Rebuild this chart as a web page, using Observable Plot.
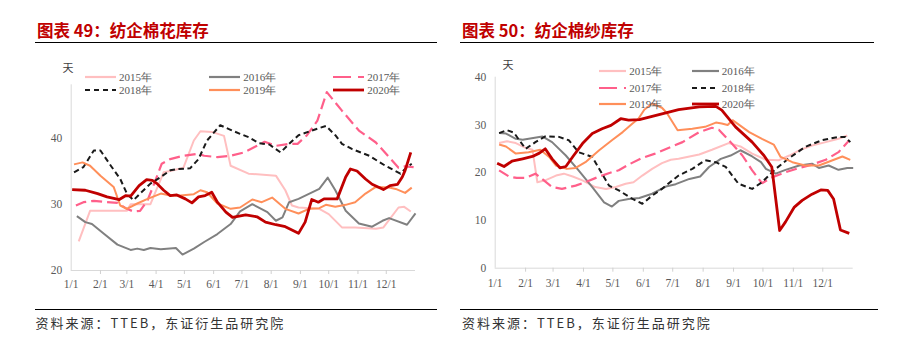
<!DOCTYPE html>
<html><head><meta charset="utf-8">
<script src="https://cdn.jsdelivr.net/npm/d3@7"></script>
<script src="https://cdn.jsdelivr.net/npm/@observablehq/plot@0.6"></script>
<style>
html,body{margin:0;padding:0;background:#fff;}
body{width:901px;height:356px;position:relative;overflow:hidden;font-family:"Liberation Serif",serif;}
.title{position:absolute;top:22px;font:700 16.5px/1 "Noto Sans CJK SC",sans-serif;color:#c00000;white-space:nowrap;}
.hr{position:absolute;height:0;border-top:1.4px solid #000;}
.src{position:absolute;top:316px;font:13px/1 "Noto Sans CJK SC",sans-serif;color:#333;letter-spacing:2px;white-space:nowrap;}
.unit{position:absolute;font:11px/1 "Noto Sans CJK SC",sans-serif;color:#404040;}
.chart{position:absolute;top:60px;}
.lg{position:absolute;display:flex;align-items:center;height:12px;font:11px/12px "Liberation Serif",serif;color:#595959;white-space:nowrap;z-index:2;}
.lg svg{display:block;margin-right:3px;}
</style></head>
<body>
<div class="title" style="left:37px">图表 49：纺企棉花库存</div>
<div class="title" style="left:462px">图表 50：纺企棉纱库存</div>
<div class="hr" style="left:35px;width:402px;top:41.5px"></div>
<div class="hr" style="left:460px;width:414px;top:41.5px"></div>
<div class="hr" style="left:35px;width:402px;top:308.6px"></div>
<div class="hr" style="left:460px;width:418px;top:308.6px"></div>
<div class="src" style="left:35.5px">资料来源：TTEB，东证衍生品研究院</div>
<div class="src" style="left:462px">资料来源：TTEB，东证衍生品研究院</div>
<div class="unit" style="left:62.5px;top:62px">天</div>
<div class="unit" style="left:502.5px;top:58.5px">天</div>
<div id="left" class="chart" style="left:0px"></div>
<div id="right" class="chart" style="left:450px"></div>
<script>
// ---- data ----
const monthStarts = [0,31,59,90,120,151,181,212,243,273,304,334];
const monthLabels = ["1/1","2/1","3/1","4/1","5/1","6/1","7/1","8/1","9/1","10/1","11/1","12/1"];
const years = ["2015年","2016年","2017年","2018年","2019年","2020年"];
const cottonTicks = [20,30,40];
const yarnTicks = [0,10,20,30,40];

// cotton inventory (days), [day of year, value]
const cotton2015 = [[8,24.4],[20,29.0],[59,29.0],[63,30.0],[84,30.0],[98,34.8],[105,35.0],[119,35.5],[130,39.6],[137,41.0],[149,40.9],[162,40.3],[169,35.8],[188,34.6],[217,34.3],[227,32.1],[234,29.8],[241,29.5],[263,29.3],[273,28.5],[287,26.5],[301,26.5],[323,26.3],[331,26.5],[347,29.5],[353,29.6],[360,28.9]];
const cotton2016 = [[6,28.2],[15,27.3],[22,27.0],[35,25.5],[49,23.9],[63,23.1],[70,23.3],[77,23.1],[84,23.4],[95,23.2],[111,23.4],[118,22.4],[130,23.3],[141,24.3],[155,25.5],[169,27.0],[179,28.9],[192,30.0],[208,28.8],[217,27.5],[224,28.0],[231,30.3],[241,30.8],[263,32.3],[272,34.0],[280,32.1],[291,29.0],[305,27.1],[319,26.6],[330,27.5],[337,27.9],[356,26.9],[365,28.6]];
const cotton2017 = [[5,29.8],[13,30.3],[24,30.5],[38,30.3],[49,30.2],[59,29.3],[66,28.9],[73,29.0],[81,30.6],[88,33.1],[96,36.1],[105,36.8],[119,37.3],[134,37.6],[141,37.3],[155,37.1],[169,37.3],[183,37.8],[197,38.8],[205,39.4],[217,38.8],[231,39.1],[240,39.1],[250,40.4],[261,42.6],[271,46.9],[287,44.1],[305,41.1],[323,39.3],[337,37.1],[347,35.5],[354,35.7],[363,35.6]];
const cotton2018 = [[3,34.8],[13,35.6],[24,38.1],[31,38.1],[42,35.8],[52,33.8],[59,31.6],[66,30.6],[73,31.6],[84,33.1],[95,34.1],[105,35.1],[112,35.3],[126,35.4],[135,36.8],[144,39.6],[158,41.9],[169,41.2],[179,40.6],[188,40.1],[199,39.2],[210,39.0],[222,37.8],[231,39.1],[241,40.4],[255,41.1],[270,41.8],[280,40.4],[287,39.1],[298,38.3],[316,37.3],[333,35.8],[349,34.6],[356,35.6],[361,36.1]];
const cotton2019 = [[3,36.0],[12,36.3],[20,35.8],[31,34.3],[45,32.6],[52,29.8],[59,29.3],[70,30.1],[81,30.8],[95,31.6],[105,31.3],[116,31.3],[130,31.5],[137,32.1],[144,31.8],[155,30.1],[169,29.3],[179,29.5],[192,30.7],[202,30.3],[213,31.0],[227,29.3],[241,28.6],[252,29.3],[263,29.4],[270,29.9],[280,29.6],[291,29.9],[301,30.3],[312,31.6],[323,32.6],[337,32.5],[344,32.3],[354,31.7],[361,32.5]];
const cotton2020 = [[1,32.2],[15,32.1],[28,31.6],[38,31.1],[51,30.7],[58,31.3],[63,31.2],[72,32.8],[80,33.7],[86,33.6],[91,33.1],[98,32.1],[105,31.3],[112,31.4],[121,30.8],[128,30.2],[135,31.1],[142,31.3],[149,31.8],[155,30.3],[164,28.8],[171,28.0],[185,28.4],[197,28.1],[206,27.3],[217,26.9],[227,26.6],[234,26.1],[241,25.6],[248,27.3],[255,30.7],[262,30.3],[268,30.8],[282,30.8],[291,34.1],[296,35.3],[303,35.0],[312,33.8],[319,33.0],[331,32.2],[338,32.8],[346,33.0],[351,34.1],[354,35.1],[360,37.8]];

// yarn inventory (days), [day of year, value]
const yarn2015 = [[4,26.2],[12,26.6],[21,26.2],[31,25.2],[38,24.8],[43,18.0],[51,18.4],[62,19.4],[70,19.8],[79,19.2],[89,18.4],[102,17.0],[113,16.6],[123,17.0],[133,17.7],[141,18.0],[150,19.4],[160,20.8],[170,22.0],[179,22.7],[187,22.9],[208,23.8],[221,24.8],[238,26.2],[250,25.5],[262,24.0],[276,22.7],[289,22.6],[300,23.6],[310,24.7],[323,25.7],[337,26.4],[350,27.1],[359,27.8]];
const yarn2016 = [[4,28.3],[11,28.2],[21,27.1],[28,26.9],[48,27.6],[58,26.4],[72,23.6],[85,20.5],[99,17.0],[111,13.8],[119,12.9],[126,14.1],[136,14.5],[147,14.7],[160,15.6],[174,17.1],[184,17.6],[198,18.7],[209,19.2],[218,21.2],[230,22.9],[240,23.6],[250,24.7],[262,23.4],[271,22.2],[276,20.8],[286,19.8],[296,20.6],[310,21.5],[323,21.9],[330,21.0],[340,21.5],[350,20.6],[359,21.0],[365,21.0]];
const yarn2017 = [[4,20.5],[14,19.2],[22,18.9],[31,18.9],[41,19.8],[58,17.0],[68,16.6],[82,17.3],[92,18.0],[106,19.2],[119,20.1],[126,20.5],[136,21.7],[150,23.1],[163,24.0],[179,25.4],[191,26.4],[208,28.5],[221,29.4],[228,29.0],[240,26.4],[252,23.6],[262,20.5],[272,17.8],[282,19.0],[296,20.1],[310,21.0],[323,21.7],[337,22.7],[350,24.3],[361,26.8]];
const yarn2018 = [[4,28.3],[12,28.9],[19,28.4],[31,25.0],[41,26.4],[51,27.6],[65,27.5],[75,26.8],[85,24.3],[99,23.3],[116,17.3],[126,16.3],[140,14.5],[150,13.5],[160,15.2],[170,16.6],[174,17.3],[187,19.4],[201,20.8],[214,22.6],[225,22.2],[235,21.2],[248,17.7],[262,16.6],[272,18.0],[286,20.8],[300,23.1],[316,25.4],[333,26.8],[350,27.5],[357,27.5],[362,26.4]];
const yarn2019 = [[4,25.9],[11,25.5],[21,24.0],[34,24.3],[46,24.8],[55,23.3],[62,21.5],[73,20.8],[82,21.0],[92,22.2],[106,24.7],[119,26.8],[130,28.5],[140,30.3],[146,31.3],[152,33.2],[160,34.5],[170,33.6],[175,32.5],[186,28.9],[201,29.2],[214,29.6],[225,30.5],[231,30.3],[237,30.0],[242,31.0],[259,28.5],[272,27.1],[284,25.9],[291,23.3],[303,22.2],[316,21.5],[330,21.5],[344,22.6],[354,23.4],[362,22.7]];
const yarn2020 = [[2,22.0],[9,21.3],[17,22.4],[28,22.9],[38,23.4],[45,24.1],[51,25.0],[58,22.9],[66,21.0],[72,21.3],[80,23.6],[89,26.1],[99,28.2],[109,29.2],[118,29.9],[128,31.3],[136,31.0],[147,31.1],[160,31.8],[177,32.7],[187,33.2],[208,33.8],[225,33.9],[231,33.1],[245,29.6],[262,26.4],[274,23.6],[282,21.2],[290,7.9],[296,9.7],[305,12.8],[313,14.2],[323,15.5],[332,16.4],[339,16.3],[345,14.5],[352,8.0],[361,7.3]];

// ---- styles ----
const colors = ["#ffbfc0","#808080","#ff5f8a","#1a1a1a","#ff8f5a","#c00000"];
const widths = [2,2,2.2,2,2,2.8];
const dashes = [null,null,"11,5","5.5,3.5",null,null];

function rows(series){
  const out=[];
  series.forEach((s,k)=>s.forEach(([d,v])=>out.push({year:years[k],k,day:d,value:v})));
  return out;
}
function lineMarks(data){
  return years.map((y,k)=>Plot.line(data.filter(r=>r.k===k),{x:"day",y:"value",stroke:colors[k],strokeWidth:widths[k],strokeDasharray:dashes[k]||undefined,strokeLinejoin:"round",strokeLinecap:"butt"}));
}
function chart({width,height,ml,mr,mt,mb,ydom,yticks,data,tickPad}){
  return Plot.plot({
    width,height,marginLeft:ml,marginRight:mr,marginTop:mt,marginBottom:mb,
    style:{fontFamily:"'Liberation Serif',serif",fontSize:"11.5px",color:"#595959",background:"none",overflow:"visible"},
    x:{domain:[0,365]},
    y:{domain:ydom},
    marks:[
      Plot.ruleX([0],{stroke:"#d9d9d9",strokeWidth:1}),
      Plot.ruleY([ydom[0]],{stroke:"#d9d9d9",strokeWidth:1}),
      Plot.axisX({ticks:monthStarts.slice(1),tickFormat:()=>"",tickSize:4,stroke:"#d0d0d0",label:null}),
      Plot.axisX({ticks:monthStarts,tickFormat:d=>monthLabels[monthStarts.indexOf(d)],tickSize:0,tickPadding:tickPad,label:null}),
      Plot.axisY({ticks:yticks,tickSize:0,tickPadding:9,label:null}),
      ...lineMarks(data)
    ]
  });
}
document.getElementById("left").append(chart({width:440,height:240,ml:70.7,mr:25,mt:24.3,mb:30,ydom:[20,48],yticks:cottonTicks,tickPad:9,
  data:rows([cotton2015,cotton2016,cotton2017,cotton2018,cotton2019,cotton2020])}));
document.getElementById("right").append(chart({width:430,height:240,ml:44.7,mr:27.3,mt:16.7,mb:32.3,ydom:[0,40],yticks:yarnTicks,tickPad:10.5,
  data:rows([yarn2015,yarn2016,yarn2017,yarn2018,yarn2019,yarn2020])}));

// ---- legends ----
function legendItem(k,x,y,sw){
  const d=document.createElement("div");
  d.className="lg";
  d.style.left=x+"px"; d.style.top=(y-6)+"px";
  const ns="http://www.w3.org/2000/svg";
  const s=document.createElementNS(ns,"svg");
  s.setAttribute("width",sw); s.setAttribute("height",8);
  const l=document.createElementNS(ns,"line");
  l.setAttribute("x1",0);l.setAttribute("x2",sw);l.setAttribute("y1",4);l.setAttribute("y2",4);
  l.setAttribute("stroke",colors[k]);l.setAttribute("stroke-width",k===5?2.8:2.2);
  if(dashes[k]) l.setAttribute("stroke-dasharray",dashes[k]==="11,5"?"18,7":"5,4");
  s.append(l); d.append(s);
  const t=document.createElement("span"); t.textContent=years[k]; d.append(t);
  document.body.append(d);
}
const leftCols=[85,209.3,333.3], leftRows=[77.3,90];
years.forEach((y,k)=>legendItem(k,leftCols[k%3],leftRows[Math.floor(k/3)],31));
const rightCols=[599.3,691.7], rightRows=[71,87.7,104.3];
years.forEach((y,k)=>legendItem(k,rightCols[k%2],rightRows[Math.floor(k/2)],27));
</script>
</body></html>
